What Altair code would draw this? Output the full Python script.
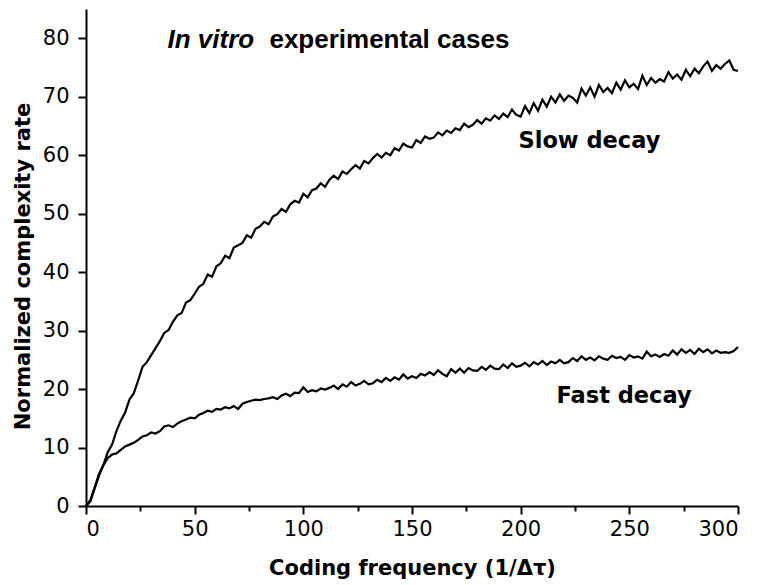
import altair as alt
import pandas as pd

x_vals = list(range(0, 301, 2))

slow_decay = [
    0.0, 0.8, 3.0, 5.2, 7.0, 9.2, 10.5, 12.8, 14.6, 16.0,
    18.2, 19.3, 21.5, 23.8, 24.6, 25.8, 27.0, 28.2, 29.6, 30.1,
    31.5, 32.6, 33.0, 34.8, 35.2, 36.3, 37.5, 38.0, 39.6, 39.2,
    41.0, 41.5, 42.8, 42.4, 44.2, 44.6, 45.0, 46.3, 45.9, 47.4,
    47.8, 48.6, 48.2, 49.5, 49.9, 50.8, 50.3, 51.6, 52.2, 51.9,
    53.4, 52.8, 54.0, 54.3, 55.2, 54.6, 55.8, 56.5, 55.9, 57.2,
    56.8, 57.6, 58.3, 57.7, 59.0, 58.6, 59.5, 60.2, 59.6, 60.4,
    60.0, 61.2, 60.8, 62.0, 61.5, 61.3, 62.6, 62.1, 63.2, 62.8,
    63.0, 63.9, 63.4, 64.2, 63.8, 64.6, 64.3, 65.4, 64.8, 65.2,
    66.0, 65.4, 66.3, 65.9, 66.8, 66.2, 67.1, 66.5, 67.8, 66.9,
    66.6, 68.4, 67.2, 68.9, 67.6, 69.5, 68.3, 70.0, 69.0, 70.4,
    69.3, 70.2, 69.8, 69.0, 71.4, 70.2, 71.6, 70.0, 72.0, 70.8,
    71.5, 70.6, 72.4, 71.2, 72.8, 71.6, 72.2, 71.3, 73.6, 72.0,
    73.2, 72.4, 73.0, 72.6, 74.2, 73.1, 73.8, 72.9, 74.6, 73.5,
    74.8, 74.0, 75.2, 76.0, 74.4, 75.4, 74.8, 75.6, 76.2, 74.6,
    74.4,
]

fast_decay = [
    0.0, 1.0, 3.2, 5.5, 7.0, 8.2, 8.8, 9.0, 9.6, 10.2,
    10.5, 10.8, 11.3, 11.9, 12.1, 12.6, 12.4, 12.8, 13.6, 13.8,
    13.5, 14.1, 14.5, 14.8, 15.1, 15.0, 15.6, 15.9, 16.3, 16.1,
    16.6, 16.5, 16.9, 16.7, 17.1, 16.6, 17.5, 17.8, 18.0, 18.2,
    18.1, 18.3, 18.4, 18.6, 18.3, 18.9, 19.2, 18.8, 19.4, 19.3,
    20.3, 19.5, 19.8, 19.6, 20.1, 19.9, 20.2, 20.6, 20.0, 20.8,
    20.4, 21.2, 20.6, 20.9, 21.4, 20.8, 21.0, 21.6, 21.2, 21.9,
    21.4, 22.0, 21.6, 22.5, 21.8, 22.2, 21.9, 22.6, 22.3, 22.9,
    22.4, 23.2, 22.6, 22.2, 23.4, 22.8, 23.5, 22.8, 23.6, 23.2,
    23.1, 23.8, 23.3, 24.0, 23.5, 23.4, 24.2, 23.6, 24.4, 23.8,
    24.0, 24.5, 23.9, 24.6, 24.2, 24.8, 24.1, 24.7, 24.4, 25.0,
    24.4, 24.6, 25.3, 24.8, 25.6, 25.0, 25.4, 24.9, 25.6, 25.2,
    25.0, 25.7, 25.3, 25.5, 25.0, 25.8, 25.4, 25.6, 25.2, 26.4,
    25.6, 25.9, 25.5, 26.0, 25.7, 26.6, 25.9, 26.8, 26.2, 26.7,
    26.0, 26.9, 26.3, 26.8, 26.1, 26.6, 26.2, 26.3, 26.2, 26.5,
    27.2,
]

y_ticks = list(range(0, 86, 5))
x_ticks = list(range(0, 301, 25))

rows = []
for name, ys in (("Slow decay", slow_decay), ("Fast decay", fast_decay)):
    for xv, yv in zip(x_vals, ys):
        rows.append({"series": name, "x": xv, "y": yv})
df = pd.DataFrame(rows)

tick_font = "DejaVu Sans"
title_font = "DejaVu Sans"

lines = alt.Chart(df).mark_line(color="black", strokeWidth=2.2).encode(
    x=alt.X(
        "x:Q",
        scale=alt.Scale(domain=[0, 300], nice=False, zero=False),
        axis=alt.Axis(
            title="Coding frequency (1/\u0394\u03c4)",
            values=x_ticks,
            labelExpr="datum.value % 50 === 0 ? datum.label : ''",
            tickSize={"condition": {"test": "datum.value % 50 === 0", "value": 8}, "value": 5},
            labelPadding=4,
            titlePadding=18,
            grid=False,
        ),
    ),
    y=alt.Y(
        "y:Q",
        scale=alt.Scale(domain=[0, 85], nice=False, zero=False),
        axis=alt.Axis(
            title="Normalized complexity rate",
            values=y_ticks,
            labelExpr="datum.value % 10 === 0 ? datum.label : ''",
            tickSize={"condition": {"test": "datum.value % 10 === 0", "value": 8}, "value": 5},
            labelPadding=9,
            titlePadding=9,
            titleY=257,
            grid=False,
        ),
    ),
    detail="series:N",
)

title_italic = alt.Chart().mark_text(
    text="In vitro", align="left", baseline="alphabetic",
    font="Liberation Sans", fontSize=26, fontWeight="bold", fontStyle="italic", color="black",
).encode(x=alt.datum(37.5), y=alt.datum(78.3))

title_rest = alt.Chart().mark_text(
    text="experimental cases", align="left", baseline="alphabetic",
    font="Liberation Sans", fontSize=26, fontWeight="bold", color="black",
).encode(x=alt.datum(84.4), y=alt.datum(78.3))

slow_label = alt.Chart().mark_text(
    text="Slow decay", align="left", baseline="alphabetic",
    font=title_font, fontSize=22.5, fontWeight="bold", color="black",
).encode(x=alt.datum(199), y=alt.datum(61.3))

fast_label = alt.Chart().mark_text(
    text="Fast decay", align="left", baseline="alphabetic",
    font=title_font, fontSize=22.5, fontWeight="bold", color="black",
).encode(x=alt.datum(216.5), y=alt.datum(17.7))

chart = (
    alt.layer(lines, title_italic, title_rest, slow_label, fast_label)
    .properties(
        width=652,
        height=497,
        autosize=alt.AutoSizeParams(type="none"),
        padding={"left": 78, "top": 1, "right": 17, "bottom": 78},
        background="white",
    )
    .configure_view(stroke=None)
    .configure_axis(
        domainColor="black",
        domainWidth=2,
        tickColor="black",
        tickWidth=2,
        labelColor="black",
        labelFont=tick_font,
        labelFontSize=21,
        titleColor="black",
        titleFont=title_font,
        titleFontSize=21,
        titleFontWeight="bold",
    )
)

chart.save("out.html", embed_options={"renderer": "svg", "actions": False})
